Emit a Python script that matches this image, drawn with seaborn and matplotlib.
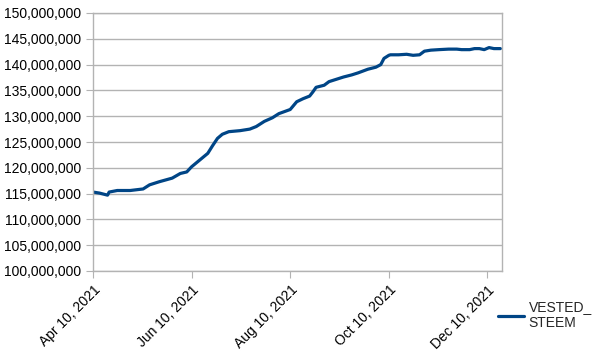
import numpy as np
import pandas as pd
import seaborn as sns
import matplotlib.pyplot as plt
import matplotlib.dates as mdates
from matplotlib.ticker import FuncFormatter

# valores (millones)
fechas = ["2021-04-10", "2021-04-14", "2021-04-19", "2021-04-20", "2021-04-25",
          "2021-05-03", "2021-05-11", "2021-05-15", "2021-05-21", "2021-05-29",
          "2021-06-03", "2021-06-07", "2021-06-10", "2021-06-15", "2021-06-20",
          "2021-06-23", "2021-06-26", "2021-06-29", "2021-07-03", "2021-07-10",
          "2021-07-16", "2021-07-20", "2021-07-25", "2021-07-30", "2021-08-03",
          "2021-08-10", "2021-08-14", "2021-08-18", "2021-08-22", "2021-08-24",
          "2021-08-26", "2021-08-31", "2021-09-03", "2021-09-07", "2021-09-12",
          "2021-09-17", "2021-09-21", "2021-09-27", "2021-10-02", "2021-10-05",
          "2021-10-07", "2021-10-10", "2021-10-11", "2021-10-16", "2021-10-21",
          "2021-10-25", "2021-10-29", "2021-11-01", "2021-11-05", "2021-11-10",
          "2021-11-16", "2021-11-21", "2021-11-24", "2021-11-29", "2021-12-02",
          "2021-12-05", "2021-12-08", "2021-12-11", "2021-12-14", "2021-12-17",
          "2021-12-18"]
vested = [115.3, 115.1, 114.7, 115.3, 115.6,
          115.6, 115.9, 116.7, 117.3, 118.0,
          118.9, 119.2, 120.2, 121.5, 122.8,
          124.3, 125.7, 126.5, 127.0, 127.2,
          127.5, 128.0, 129.0, 129.7, 130.5,
          131.3, 132.8, 133.4, 133.9, 134.7,
          135.6, 136.0, 136.7, 137.1, 137.6,
          138.0, 138.4, 139.1, 139.5, 140.0,
          141.2, 141.8, 141.9, 141.9, 142.0,
          141.8, 141.9, 142.6, 142.8, 142.9,
          143.0, 143.0, 142.9, 142.9, 143.1,
          143.1, 142.9, 143.3, 143.1, 143.1,
          143.1]

df = pd.DataFrame({"fecha": pd.to_datetime(fechas),
                   "VESTED_STEEM": np.array(vested) * 1e6})

sns.set_style("white")
plt.rcParams['font.family'] = ['Liberation Sans', 'DejaVu Sans']

fig = plt.figure(figsize=(6.04, 3.54), dpi=100)
ax = fig.add_axes([93/604, 1-271/354, (502-93)/604, (271-13)/354])

sns.lineplot(data=df, x="fecha", y="VESTED_STEEM", color="#004586",
             linewidth=2.3, label="VESTED_\nSTEEM", ax=ax)

ax.set_ylim(100e6, 150e6)
ax.set_yticks(np.arange(100e6, 150e6 + 1, 5e6))
ax.yaxis.set_major_formatter(FuncFormatter(lambda v, p: f"{v:,.0f}"))
ax.set_xlim(pd.Timestamp("2021-04-10"), pd.Timestamp("2021-12-19"))
ticks = pd.to_datetime(["2021-04-10", "2021-06-10", "2021-08-10", "2021-10-10", "2021-12-10"])
ax.set_xticks(ticks)
ax.xaxis.set_major_formatter(mdates.DateFormatter("%b %d, %Y"))
for t in ax.get_xticklabels():
    t.set_rotation(45)
    t.set_ha("right")
    t.set_rotation_mode("anchor")

ax.grid(axis="y", color="#b3b3b3", linewidth=1)
for s in ax.spines.values():
    s.set_color("#b3b3b3")
    s.set_linewidth(1)
ax.tick_params(axis="both", length=5, color="#b3b3b3", labelsize=10,
               labelcolor="black", direction="out", bottom=True, left=True)
ax.set_xlabel("")
ax.set_ylabel("")

ax.legend(loc="center left", bbox_to_anchor=(492/604, 1-315/354),
          bbox_transform=fig.transFigure, frameon=False, fontsize=10,
          handlelength=1.9, handletextpad=0.35, borderaxespad=0)

fig.savefig("out.png", dpi=100)
